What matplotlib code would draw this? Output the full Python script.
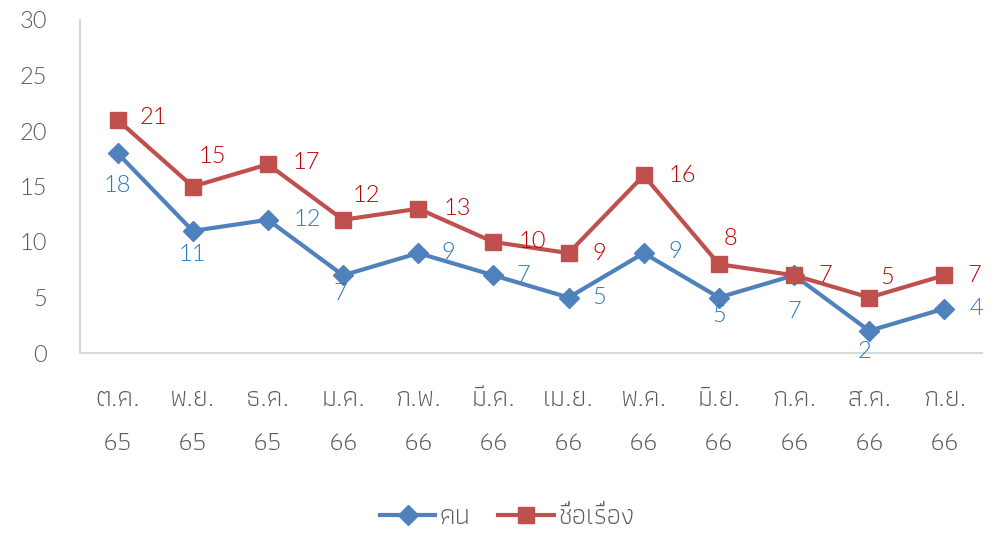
import matplotlib
matplotlib.use("Agg")
import matplotlib.pyplot as plt
from matplotlib.lines import Line2D

# Datos
meses = ["ต.ค.", "พ.ย.", "ธ.ค.", "ม.ค.", "ก.พ.", "มี.ค.", "เม.ย.", "พ.ค.", "มิ.ย.", "ก.ค.", "ส.ค.", "ก.ย."]
anios = ["65", "65", "65", "66", "66", "66", "66", "66", "66", "66", "66", "66"]
personas = [18, 11, 12, 7, 9, 7, 5, 9, 5, 7, 2, 4]
titulos = [21, 15, 17, 12, 13, 10, 9, 16, 8, 7, 5, 7]

# Desplazamientos de las etiquetas (pixeles)
off_personas = [(0, -32), (0, -24), (39, 0), (-3, -18), (30, 1), (30, 0),
                (31, 0), (32, 2), (0, -18), (0, -36), (-5, -21), (32, 0)]
off_titulos = [(36, 2), (19, 30), (38, 2), (23, 24), (39, 0), (39, 0),
               (31, 0), (39, 0), (12, 26), (31, 0), (18, 20), (30, 0)]

AZUL = "#4F81BD"
ROJO = "#C0504D"
AZUL_TXT = "#2778C2"
ROJO_TXT = "#C00000"
GRIS = "#595959"
FUENTE_TH = ["Athiti", "DejaVu Sans"]
FUENTE_NUM = ["Lato", "DejaVu Sans"]

fig = plt.figure(figsize=(10.04, 5.34), dpi=100)
ax = fig.add_axes([0.0797, 1 - 353 / 534, 0.8984, 333 / 534])

x = list(range(len(meses)))
ax.plot(x, personas, color=AZUL, lw=3, marker="D", ms=10.5, label="คน")
ax.plot(x, titulos, color=ROJO, lw=3, marker="s", ms=12, label="ชื่อเรื่อง")

for i in x:
    ax.annotate(str(personas[i]), (i, personas[i]), xytext=off_personas[i],
                textcoords="offset pixels", ha="center", va="center",
                color=AZUL_TXT, fontsize=17, family=FUENTE_NUM, weight=300)
    ax.annotate(str(titulos[i]), (i, titulos[i]), xytext=off_titulos[i],
                textcoords="offset pixels", ha="center", va="center",
                color=ROJO_TXT, fontsize=17, family=FUENTE_NUM, weight=300)

ax.set_xlim(-0.5, len(meses) - 0.5)
ax.set_ylim(0, 30)
ax.set_yticks(range(0, 31, 5))
ax.set_yticklabels([str(v) for v in range(0, 31, 5)], family=FUENTE_NUM,
                   fontsize=17, color=GRIS, weight=300)
ax.set_xticks(x)
ax.set_xticklabels([f"{m}\n{a}" for m, a in zip(meses, anios)],
                   family=FUENTE_TH, fontsize=20, color=GRIS, weight=300,
                   linespacing=2.2)
ax.tick_params(axis="both", length=0)
ax.tick_params(axis="y", pad=24)
ax.tick_params(axis="x", pad=25)

for lado in ["top", "right"]:
    ax.spines[lado].set_visible(False)
for lado in ["left", "bottom"]:
    ax.spines[lado].set_color("#D9D9D9")
    ax.spines[lado].set_linewidth(1.5)

manejadores = [
    Line2D([], [], color=AZUL, lw=3, marker="D", ms=10.5),
    Line2D([], [], color=ROJO, lw=3, marker="s", ms=12),
]
fig.legend(manejadores, ["คน", "ชื่อเรื่อง"], loc="center",
           bbox_to_anchor=(0.505, 1 - 517 / 534), ncol=2, frameon=False,
           prop={"family": FUENTE_TH, "size": 20, "weight": 300},
           labelcolor=GRIS, handlelength=2.0, handletextpad=0.15,
           columnspacing=1.0)

fig.savefig("out.png", dpi=100)
